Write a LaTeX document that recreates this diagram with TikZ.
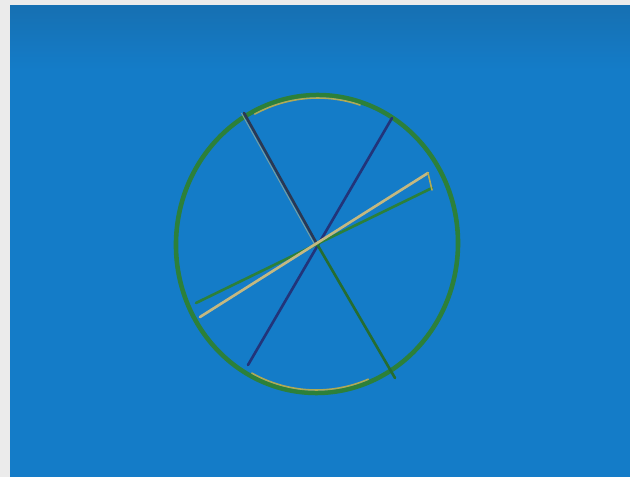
\documentclass[tikz,border=0pt]{standalone}
\usepackage{tikz}
\usetikzlibrary{positioning}
\definecolor{screenblue}{RGB}{20,124,200}
\definecolor{screentop}{RGB}{22,112,178}
\definecolor{rimgreen}{RGB}{44,128,58}
\definecolor{rimyellow}{RGB}{176,170,84}
\definecolor{spokenavy}{RGB}{34,52,122}
\definecolor{spokedark}{RGB}{42,56,84}
\definecolor{spoketan}{RGB}{196,184,128}
\tikzset{
  wheel-rim/.style={draw=rimgreen, line width=2.6pt},
  wheel-glint/.style={draw=rimyellow, line width=0.9pt, line cap=round},
  wheel-spoke/.style={line width=1.5pt, line cap=round},
  wheel-edge/.style={draw=spoketan!60!screenblue, line width=0.5pt}
}
\begin{document}
\begin{tikzpicture}[x=0.02cm, y=-0.02cm]
  \useasboundingbox (0,0) rectangle (630,477);
  \fill[black!8] (0,0) rectangle (630,477);
  \shade[top color=screentop, bottom color=screenblue, middle color=screenblue, shading angle=0] (10,5) rectangle (630,477);
  \shade[top color=screentop, bottom color=screenblue] (10,5) rectangle (630,70);
  \fill[screenblue] (10,70) rectangle (630,477);
  % points on the rim
  \coordinate (hub) at (317,244);
  \coordinate (rimA1) at (244,113);
  \coordinate (rimA2) at (395,378);
  \coordinate (rimB1) at (392,118);
  \coordinate (rimB2) at (248,365);
  \coordinate (rimC1) at (428,173);
  \coordinate (rimC2) at (200,317);
  \coordinate (rimD1) at (432,188);
  \coordinate (rimD2) at (196,303);
  % the rim
  \draw[wheel-rim, rotate around={-3:(hub)}] (hub) ellipse [x radius=141, y radius=149];
  \draw[wheel-glint, rotate around={-3:(hub)}] (hub) ++(65:138 and 146) arc [start angle=65, end angle=115, x radius=138, y radius=146];
  \draw[wheel-glint, rotate around={-3:(hub)}] (hub) ++(240:138 and 146) arc [start angle=240, end angle=285, x radius=138, y radius=146];
  % the spokes
  \draw[wheel-spoke, draw=spokenavy] (rimB1) -- (rimB2);
  \draw[wheel-spoke, draw=spokedark] (rimA1) -- (hub);
  \draw[wheel-edge] ([xshift=-1.5]rimA1) -- ([xshift=-1.5]hub);
  \draw[wheel-spoke, draw=rimgreen!85!black] (hub) -- (rimA2);
  \draw[wheel-spoke, draw=rimgreen] (rimD1) -- (rimD2);
  \draw[wheel-spoke, draw=spoketan] (rimC1) -- (rimC2);
  \draw[wheel-glint] (rimC1) -- ++(4,17);
\end{tikzpicture}
\end{document}
